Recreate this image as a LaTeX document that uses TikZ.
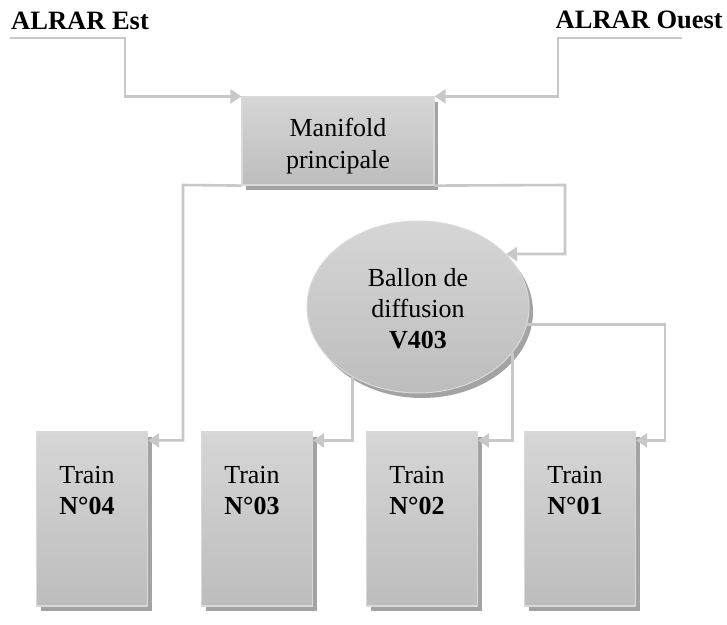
\documentclass[tikz,border=0pt]{standalone}
\usepackage{fontspec}
\setmainfont{Liberation Serif}
\usetikzlibrary{shapes.geometric,arrows.meta,shadows}

\definecolor{flowgray}{HTML}{C8C8C8}
\definecolor{boxtop}{HTML}{D6D6D6}
\definecolor{boxbot}{HTML}{BDBDBD}
\definecolor{boxedge}{HTML}{D9D9D9}
\definecolor{shadowgray}{HTML}{A3A3A3}

\tikzset{
  flow/.style={draw=flowgray, line width=2.6pt,
    -{Triangle[length=11pt,width=14pt,fill=flowgray,color=flowgray]}},
  grayshadow/.style={drop shadow={shadow xshift=4pt, shadow yshift=-5pt,
    fill=shadowgray, opacity=1}},
  unitbox/.style={rectangle, draw=boxedge, line width=1.2pt,
    top color=boxtop, bottom color=boxbot, inner sep=0pt, grayshadow},
  trainbox/.style={unitbox, minimum width=111pt, minimum height=174pt},
  tank/.style={ellipse, draw=boxedge, line width=1pt, inner sep=0pt,
    top color=boxtop, bottom color=boxbot, minimum width=222pt,
    minimum height=172pt, grayshadow},
  label/.style={font=\fontsize{26}{31}\selectfont, align=center, inner sep=0pt},
  source/.style={font=\fontsize{26.5}{30}\selectfont\bfseries, inner sep=0pt}
}

\begin{document}
\begin{tikzpicture}[x=1pt,y=-1pt]
\useasboundingbox (0,0) rectangle (727,624);

% sources
\node[source, anchor=west] (est) at (11,21) {ALRAR Est};
\node[source, anchor=east] (ouest) at (723,20) {ALRAR Ouest};
\coordinate (estin) at (10,38);
\coordinate (ouestin) at (682,38);

% main manifold
\node[unitbox, minimum width=192pt, minimum height=88pt] (man) at (338,141) {};
\node[label, font=\fontsize{26}{32}\selectfont] (mantxt) at (338,146) {Manifold\\principale};

% diffusion drum
\node[tank] (drum) at (418,307) {};
\node[label] (drumtxt) at (418,309) {Ballon de\\diffusion\\\textbf{V403}};

% trains
\node[trainbox] (t4) at (92,519) {};
\node[trainbox] (t3) at (257,519) {};
\node[trainbox] (t2) at (422,519) {};
\node[trainbox] (t1) at (580,519) {};
\foreach \t/\n in {t4/04,t3/03,t2/02,t1/01}{
  \node[label, anchor=north] (\t txt) at ([xshift=-5pt,yshift=-35pt]\t.north) {Train\\\textbf{N°\n}};
  \coordinate (\t in) at ([yshift=-9pt]\t.north east);
}
\coordinate (t1bend) at (665,0);

% feeds into the manifold
\draw[flow] (estin) -- (125,38) |- (man.north west);
\draw[flow] (ouestin) -- (558,38) |- (man.north east);

% manifold outlets
\draw[flow] (man.south west) -- (183,185) |- (t4in);
\draw[flow] (man.south east) -- (565,185) |- (drum.31);

% drum outlets
\draw[flow] (drum.-133) |- (t3in);
\draw[flow] (drum.-26) |- (t2in);
\draw[flow] (drum.-9) -| (t1bend |- t1in) -- (t1in);
\end{tikzpicture}
\end{document}
